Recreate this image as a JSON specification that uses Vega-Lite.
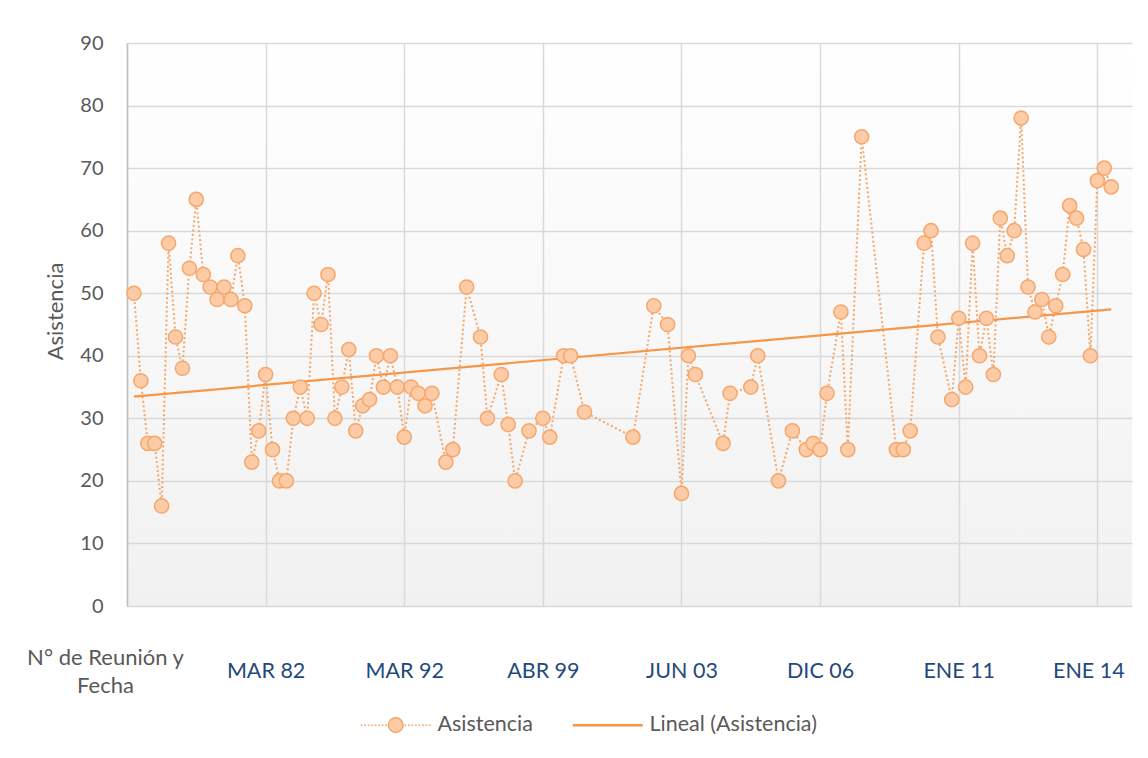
{
  "$schema": "https://vega.github.io/schema/vega-lite/v6.json",
  "width": 1005,
  "height": 563,
  "autosize": {"type": "none"},
  "padding": {"left": 127, "top": 43, "right": 16, "bottom": 152},
  "background": "#FFFFFF",
  "view": {
    "stroke": null,
    "fill": {"gradient": "linear", "x1": 0, "y1": 0, "x2": 0, "y2": 1, "stops": [{"offset": 0, "color": "#FFFFFF"}, {"offset": 1, "color": "#F1F1F1"}]}
  },
  "config": {"font": "Lato"},
  "data": {
    "values": [
      {"idx": 1, "value": 50}, {"idx": 2, "value": 36}, {"idx": 3, "value": 26}, {"idx": 4, "value": 26}, {"idx": 5, "value": 16},
      {"idx": 6, "value": 58}, {"idx": 7, "value": 43}, {"idx": 8, "value": 38}, {"idx": 9, "value": 54}, {"idx": 10, "value": 65},
      {"idx": 11, "value": 53}, {"idx": 12, "value": 51}, {"idx": 13, "value": 49}, {"idx": 14, "value": 51}, {"idx": 15, "value": 49},
      {"idx": 16, "value": 56}, {"idx": 17, "value": 48}, {"idx": 18, "value": 23}, {"idx": 19, "value": 28}, {"idx": 20, "value": 37},
      {"idx": 21, "value": 25}, {"idx": 22, "value": 20}, {"idx": 23, "value": 20}, {"idx": 24, "value": 30}, {"idx": 25, "value": 35},
      {"idx": 26, "value": 30}, {"idx": 27, "value": 50}, {"idx": 28, "value": 45}, {"idx": 29, "value": 53}, {"idx": 30, "value": 30},
      {"idx": 31, "value": 35}, {"idx": 32, "value": 41}, {"idx": 33, "value": 28}, {"idx": 34, "value": 32}, {"idx": 35, "value": 33},
      {"idx": 36, "value": 40}, {"idx": 37, "value": 35}, {"idx": 38, "value": 40}, {"idx": 39, "value": 35}, {"idx": 40, "value": 27},
      {"idx": 41, "value": 35}, {"idx": 42, "value": 34}, {"idx": 43, "value": 32}, {"idx": 44, "value": 34}, {"idx": 46, "value": 23},
      {"idx": 47, "value": 25}, {"idx": 49, "value": 51}, {"idx": 51, "value": 43}, {"idx": 52, "value": 30}, {"idx": 54, "value": 37},
      {"idx": 55, "value": 29}, {"idx": 56, "value": 20}, {"idx": 58, "value": 28}, {"idx": 60, "value": 30}, {"idx": 61, "value": 27},
      {"idx": 63, "value": 40}, {"idx": 64, "value": 40}, {"idx": 66, "value": 31}, {"idx": 73, "value": 27}, {"idx": 76, "value": 48},
      {"idx": 78, "value": 45}, {"idx": 80, "value": 18}, {"idx": 81, "value": 40}, {"idx": 82, "value": 37}, {"idx": 86, "value": 26},
      {"idx": 87, "value": 34}, {"idx": 90, "value": 35}, {"idx": 91, "value": 40}, {"idx": 94, "value": 20}, {"idx": 96, "value": 28},
      {"idx": 98, "value": 25}, {"idx": 99, "value": 26}, {"idx": 100, "value": 25}, {"idx": 101, "value": 34}, {"idx": 103, "value": 47},
      {"idx": 104, "value": 25}, {"idx": 106, "value": 75}, {"idx": 111, "value": 25}, {"idx": 112, "value": 25}, {"idx": 113, "value": 28},
      {"idx": 115, "value": 58}, {"idx": 116, "value": 60}, {"idx": 117, "value": 43}, {"idx": 119, "value": 33}, {"idx": 120, "value": 46},
      {"idx": 121, "value": 35}, {"idx": 122, "value": 58}, {"idx": 123, "value": 40}, {"idx": 124, "value": 46}, {"idx": 125, "value": 37},
      {"idx": 126, "value": 62}, {"idx": 127, "value": 56}, {"idx": 128, "value": 60}, {"idx": 129, "value": 78}, {"idx": 130, "value": 51},
      {"idx": 131, "value": 47}, {"idx": 132, "value": 49}, {"idx": 133, "value": 43}, {"idx": 134, "value": 48}, {"idx": 135, "value": 53},
      {"idx": 136, "value": 64}, {"idx": 137, "value": 62}, {"idx": 138, "value": 57}, {"idx": 139, "value": 40}, {"idx": 140, "value": 68},
      {"idx": 141, "value": 70}, {"idx": 142, "value": 67}
    ]
  },
  "encoding": {
    "x": {
      "field": "idx",
      "type": "quantitative",
      "scale": {"domain": [0, 145], "nice": false, "zero": false},
      "axis": {
        "values": [0, 20, 40, 60, 80, 100, 120, 140],
        "title": null,
        "grid": true,
        "gridColor": "#D9D9D9",
        "gridWidth": 1.5,
        "domain": false,
        "ticks": false,
        "tickSize": 0,
        "labelPadding": {"condition": {"test": "datum.value == 0", "value": 51}, "value": 65},
        "labelBaseline": "middle",
        "labelFont": "Lato",
        "labelFontSize": {"condition": {"test": "datum.value == 0", "value": 22}, "value": 21.5},
        "labelLineHeight": 28,
        "labelOverlap": false,
        "labelBound": false,
        "labelFlush": false,
        "labelColor": {"condition": {"test": "datum.value == 0", "value": "#595959"}, "value": "#1F497D"},
        "labelOffset": {"condition": [{"test": "datum.value == 0", "value": -22}, {"test": "datum.value == 140", "value": -9}], "value": 0},
        "labelExpr": "datum.value == 0 ? ['N° de Reunión y', 'Fecha'] : datum.value == 20 ? 'MAR 82' : datum.value == 40 ? 'MAR 92' : datum.value == 60 ? 'ABR 99' : datum.value == 80 ? 'JUN 03' : datum.value == 100 ? 'DIC 06' : datum.value == 120 ? 'ENE 11' : 'ENE 14'"
      }
    },
    "y": {
      "field": "value",
      "type": "quantitative",
      "scale": {"domain": [0, 90], "nice": false},
      "axis": {
        "values": [0, 10, 20, 30, 40, 50, 60, 70, 80, 90],
        "title": "Asistencia",
        "grid": true,
        "gridColor": "#D9D9D9",
        "gridWidth": 1.5,
        "domain": true,
        "domainColor": "#BFBFBF",
        "domainWidth": 1.5,
        "ticks": false,
        "tickSize": 0,
        "labelPadding": 24,
        "labelFont": "Lato",
        "labelFontSize": 20,
        "labelColor": "#595959",
        "titleFont": "Lato",
        "titleFontSize": 22,
        "titleFontWeight": "normal",
        "titleColor": "#595959",
        "titlePadding": 12,
        "titleY": 268
      }
    }
  },
  "layer": [
    {
      "mark": {"type": "line", "strokeDash": [2, 2.5], "strokeWidth": 2},
      "encoding": {"stroke": {"datum": "Asistencia", "scale": {"domain": ["Asistencia", "Lineal (Asistencia)"], "range": ["#F5A76C", "#F79646"]}}}
    },
    {
      "transform": [{"regression": "value", "on": "idx"}],
      "mark": {"type": "line", "strokeWidth": 2.2},
      "encoding": {"stroke": {"datum": "Lineal (Asistencia)"}}
    },
    {
      "mark": {"type": "point", "filled": true, "fill": "#FDCBA6", "size": 200, "strokeWidth": 1.5, "opacity": 1},
      "encoding": {
        "stroke": {
          "datum": "Asistencia",
          "legend": {
            "title": null,
            "orient": "none",
            "legendX": 258,
            "legendY": 671,
            "direction": "horizontal",
            "symbolSize": 4900,
            "symbolType": {"expr": "datum.value === 'Asistencia' ? 'M-1,0h0.05M-0.9,0h0.05M-0.8,0h0.05M-0.7,0h0.05M-0.6,0h0.05M-0.5,0h0.05M-0.4,0h0.05M-0.3,0h0.05M0.25,0h0.05M0.35,0h0.05M0.45,0h0.05M0.55,0h0.05M0.65,0h0.05M0.75,0h0.05M0.85,0h0.05M0.95,0h0.05M0.21,0A0.21,0.21 0 1,1 -0.21,0A0.21,0.21 0 1,1 0.21,0Z' : 'M-1,0H1'"},
            "symbolFillColor": {"expr": "datum.value === 'Asistencia' ? '#FDCBA6' : 'transparent'"},
            "symbolStrokeWidth": {"expr": "datum.value === 'Asistencia' ? 1.5 : 2.5"},
            "labelFont": "Lato",
            "labelFontSize": 21.5,
            "labelColor": "#595959",
            "labelOffset": 31,
            "labelLimit": 400,
            "columnPadding": 34
          }
        }
      }
    }
  ]
}
